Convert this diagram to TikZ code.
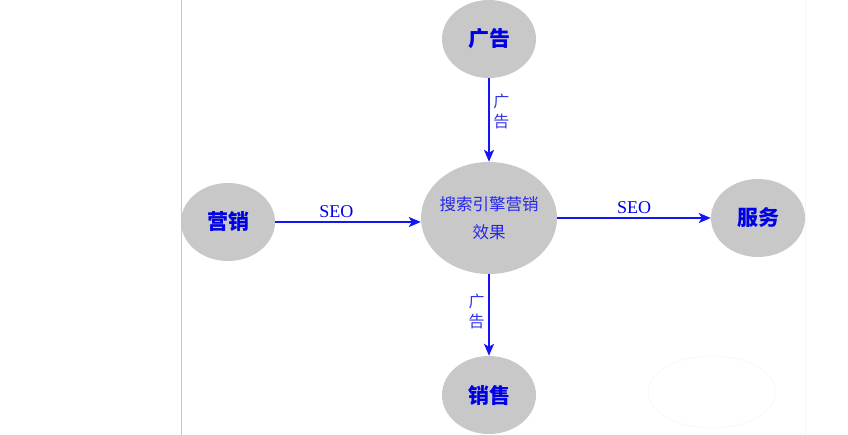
\documentclass[tikz,border=0pt]{standalone}
\usepackage{fontspec}
\newfontfamily\cjk{Noto Sans CJK SC}
\newfontfamily\seofont{Liberation Serif}
\usetikzlibrary{shapes.geometric, arrows.meta}
\definecolor{ballgray}{RGB}{200,200,200}
\definecolor{textblue}{RGB}{0,0,230}
\definecolor{lineblue}{RGB}{20,20,245}
\tikzstyle{ball} = [ellipse, minimum width=94pt, minimum height=78pt, inner sep=0pt, fill=ballgray, text=textblue, font=\cjk\bfseries\fontsize{21}{24}\selectfont]
\tikzstyle{hub} = [ellipse, minimum width=136pt, minimum height=112pt, inner sep=-4pt, fill=ballgray, text=textblue!85!white, align=center, font=\cjk\fontsize{16.5}{28}\selectfont]
\tikzstyle{arrow} = [line width=2pt, lineblue, ->, >={Stealth[length=12pt, width=10pt, inset=3pt]}]
\tikzstyle{vlabel} = [text=textblue!80!white, align=center, font=\cjk\fontsize{16}{20}\selectfont]
\tikzstyle{hlabel} = [text=textblue, font=\seofont\fontsize{18}{20}\selectfont]
\begin{document}
\begin{tikzpicture}[x=1pt, y=-1pt, node distance=177pt]
            \useasboundingbox (0,0) rectangle (848,435);
            \draw[ballgray, line width=1pt] (181,0) -- (181,435);
            \draw[black!4] (805,0) -- (805,435);
            \draw[black!5] (712,392) ellipse [x radius=64, y radius=36];
            \node(mid)[hub] at (489,218) {搜索引擎营销\\效果};
            \node(guanggao)[ball, above of=mid, yshift=2pt]{广告};
            \node(xiaoshou)[ball, below of=mid]{销售};
            \node(yingxiao)[ball, left of=mid, xshift=-84pt, yshift=-4pt]{营销};
            \node(fuwu)[ball, right of=mid, xshift=92pt]{服务};
            \draw[arrow](guanggao)--(mid) node(adtop)[vlabel, pos=0.4, right]{广\\告};
            \draw[arrow](mid)--(xiaoshou) node(adbot)[vlabel, pos=0.46, left]{广\\告};
            \draw[arrow](yingxiao.east)--(yingxiao.east -| mid.west) node(seoleft)[hlabel, pos=0.42, above]{SEO};
            \draw[arrow](mid)--(fuwu) node(seoright)[hlabel, midway, above]{SEO};
        \end{tikzpicture}
\end{document}
